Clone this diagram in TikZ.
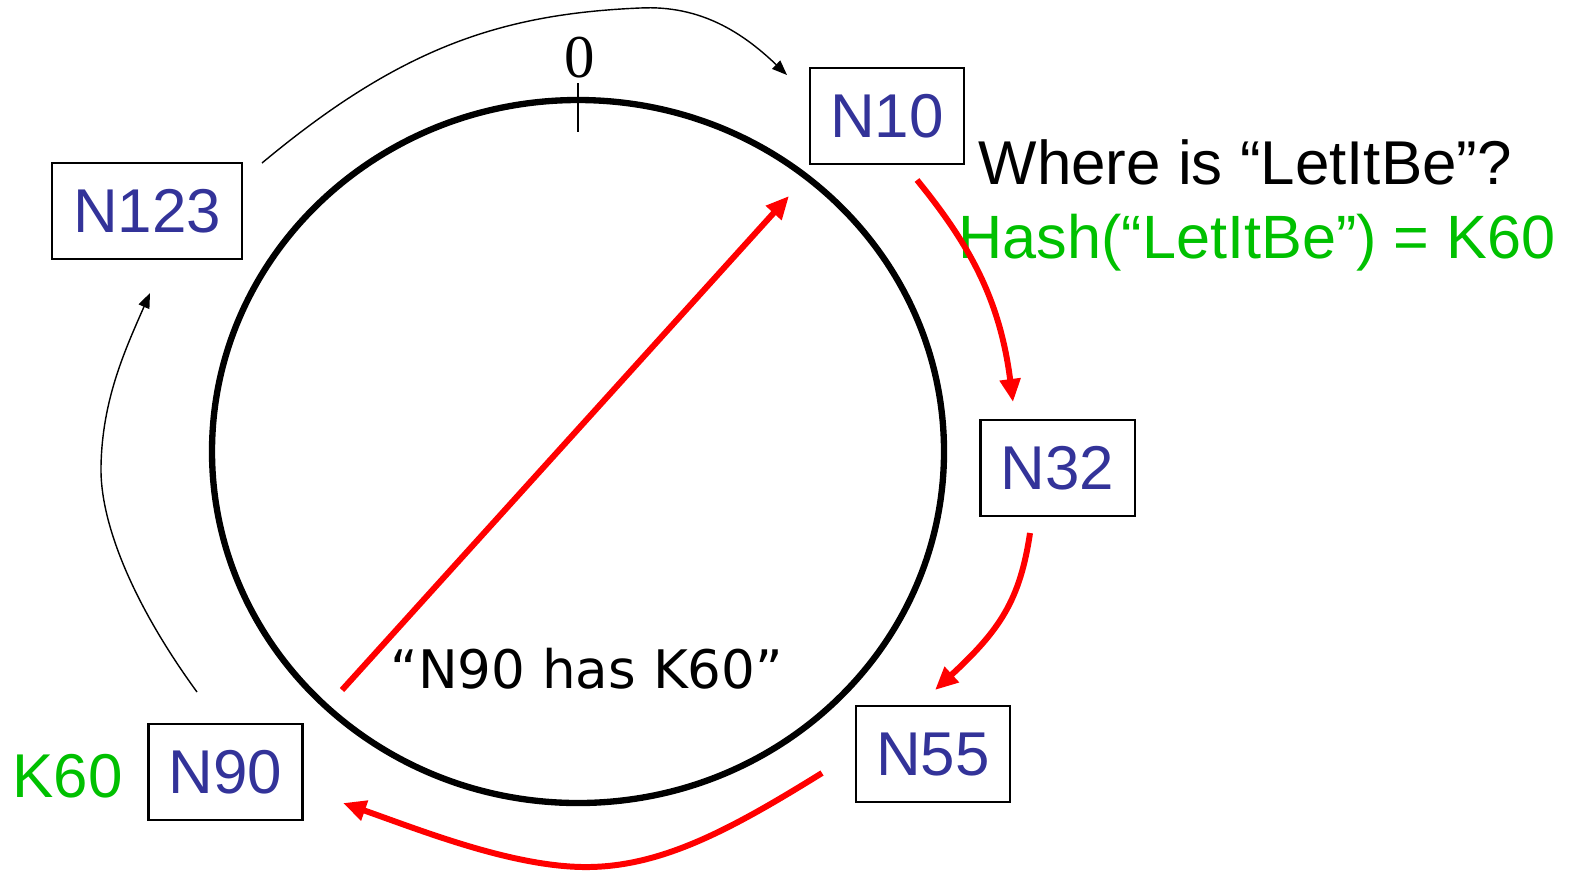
\documentclass[tikz,border=0pt]{standalone}
\usepackage{fontspec}
\setmainfont{Liberation Sans}
\newfontfamily\dejavu{DejaVu Sans}
\newfontfamily\timesfont{Liberation Serif}
\usetikzlibrary{arrows.meta}
\definecolor{nblue}{HTML}{333399}
\definecolor{kgreen}{HTML}{00C000}
\definecolor{ared}{HTML}{FF0000}
\tikzset{
  nodebox/.style={draw=black, line width=0.6pt, minimum width=1.54cm, minimum height=0.96cm,
    inner sep=0pt, text=nblue, font=\fontsize{17.6}{20}\selectfont},
  bigtext/.style={inner sep=0pt, font=\fontsize{17.6}{20}\selectfont},
  redarrow/.style={draw=ared, line width=1.7pt, -{Triangle[length=2.3mm, width=2mm]}},
  thinarrow/.style={draw=black, line width=0.4pt, -{Triangle[length=1.5mm, width=1.15mm]}},
}
\begin{document}
\begin{tikzpicture}[x=0.01cm, y=-0.01cm]
\useasboundingbox (0,0) rectangle (1577,872);
% ring
\draw[line width=1.8pt] (578,451.5) ellipse [x radius=366, y radius=351.5];
\draw[line width=0.45pt] (578,83) -- (578,132);
\node[inner sep=0pt, anchor=base, font=\timesfont\fontsize{17.3}{20}\selectfont] (zero) at (580,77) {0};
% boxes
\node[nodebox] (n10) at (887,116) {N10};
\node[nodebox, minimum width=1.90cm] (n123) at (147,211) {N123};
\node[nodebox] (n32) at (1057.5,468) {N32};
\node[nodebox] (n55) at (933,754) {N55};
\node[nodebox] (n90) at (225.5,772) {N90};
% texts
\node[bigtext, anchor=base west] (where) at (978,184) {Where is “LetItBe”?};
\node[inner sep=0pt, anchor=base west, text=kgreen, font=\fontsize{17.4}{20}\selectfont] (hash) at (958,258) {Hash(“LetItBe”) = K60};
\node[bigtext, anchor=base west, text=kgreen] (k60) at (12,797) {K60};
\node[inner sep=0pt, anchor=base west, font=\dejavu\fontsize{15.1}{18}\selectfont] (has) at (390,688) {“N90 has K60”};
% connector end points
\coordinate (a1s) at (262,163);
\coordinate (a1m) at (640,8);
\coordinate (a1e) at (787,75);
\coordinate (a2s) at (197,692);
\coordinate (a2m) at (101,467);
\coordinate (a2e) at (150,293);
\coordinate (r1s) at (917,180);
\coordinate (r1e) at (1013,402);
\coordinate (r2s) at (1030,533);
\coordinate (r2e) at (935,690);
\coordinate (r3s) at (822,773);
\coordinate (r3m) at (583,867);
\coordinate (r3e) at (343,803);
\coordinate (r4s) at (342,690);
\coordinate (r4e) at (789,196);
% black finger arrows
\draw[thinarrow] (a1s) .. controls (400,48) and (500,14) .. (a1m) .. controls (700,5) and (742,32) .. (a1e);
\draw[thinarrow] (a2s) .. controls (130,600) and (100,520) .. (a2m) .. controls (102,400) and (125,350) .. (a2e);
% red lookup arrows
\draw[redarrow] (r1s) .. controls (970,245) and (1000,300) .. (r1e);
\draw[redarrow] (r2s) .. controls (1020,600) and (1000,630) .. (r2e);
\draw[redarrow] (r3s) .. controls (730,830) and (660,868) .. (r3m) .. controls (510,866) and (420,830) .. (r3e);
\draw[redarrow] (r4s) -- (r4e);
\end{tikzpicture}
\end{document}
